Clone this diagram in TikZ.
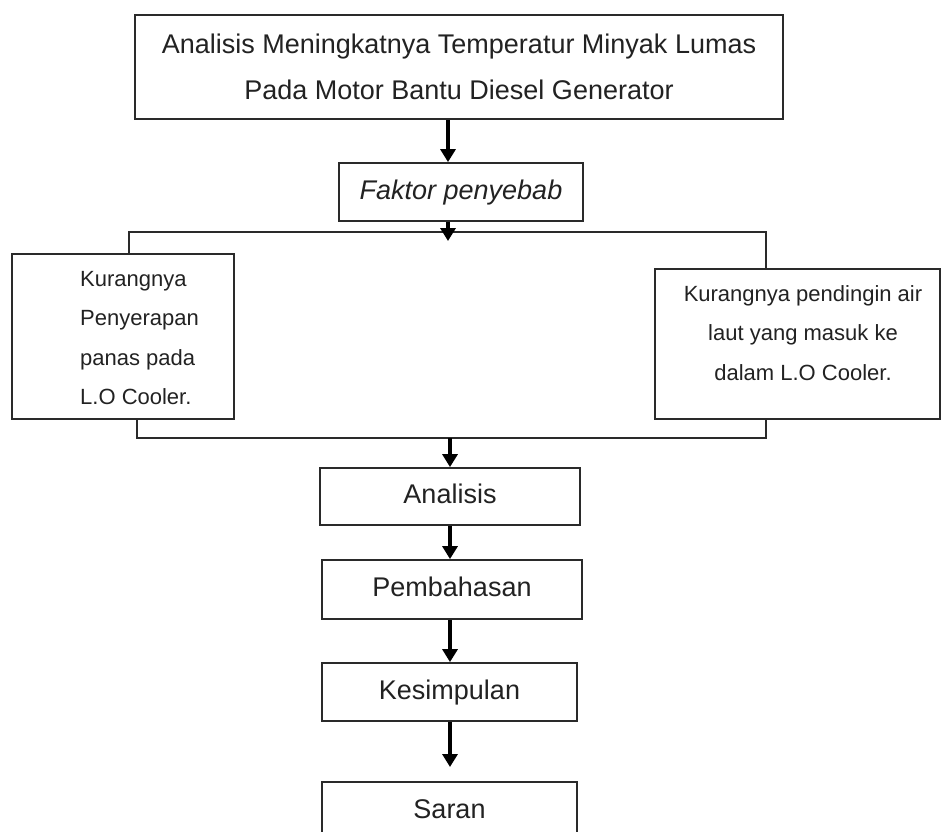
\documentclass[tikz,border=0pt]{standalone}
\usepackage{fontspec}
\setmainfont{Liberation Sans}
\usetikzlibrary{arrows.meta}
\definecolor{ink}{HTML}{222222}
\definecolor{edge}{HTML}{2A2A2A}
\begin{document}
\begin{tikzpicture}[x=1pt,y=-1pt,
  box/.style={draw=edge, line width=1.8pt, inner sep=0pt, text=ink},
  arr/.style={line width=3.5pt, draw=black, -{Triangle[width=15pt,length=13pt]}},
  conn/.style={line width=2pt, draw=edge},
  big/.style={font=\fontsize{27}{46}\selectfont},
  one/.style={text height=19.5pt, text depth=5pt},
  small/.style={font=\fontsize{22}{39.5}\selectfont, text=ink, inner sep=0pt}]
\useasboundingbox (0,0) rectangle (942,832);
\fill[white] (0,0) rectangle (942,832);
\clip (0,0) rectangle (942,832);

% boxes
\node[box, big, align=center, minimum width=648pt, minimum height=104pt] (top) at (459,67)
  {Analisis Meningkatnya Temperatur Minyak Lumas\\Pada Motor Bantu Diesel Generator};
\node[box, one, font=\fontsize{27}{32}\selectfont\itshape, minimum width=244pt, minimum height=58pt] (fak) at (461,192) {Faktor penyebab};
\node[box, minimum width=222pt, minimum height=165pt] (lb) at (123,336.5) {};
\node[small, align=left, anchor=west] (lbt) at (80,338) {Kurangnya\\Penyerapan\\panas pada\\L.O Cooler.};
\node[box, minimum width=285pt, minimum height=150pt] (rb) at (797.5,344) {};
\node[small, align=center] (rbt) at (803,333) {Kurangnya pendingin air\\laut yang masuk ke\\dalam L.O Cooler.};
\node[box, big, one, minimum width=260pt, minimum height=57pt] (ana) at (450,496.5) {Analisis};
\node[box, big, one, minimum width=260pt, minimum height=59pt] (pem) at (452,589.5) {Pembahasan};
\node[box, big, one, minimum width=255pt, minimum height=58pt] (kes) at (449.5,692) {Kesimpulan};
\node[box, big, one, minimum width=255pt, minimum height=58pt] (sar) at (449.5,811) {Saran};

% helper coordinates
\coordinate (ax) at (448,0);
\coordinate (bx) at (450,0);
\coordinate (lx) at (129,0);
\coordinate (lx2) at (137,0);
\coordinate (rx) at (766,0);
\coordinate (sy) at (0,232);
\coordinate (jy) at (0,438);
\coordinate (stip) at (448,241);
\coordinate (ktip) at (450,767);

% connectors
\draw[arr] (top.south -| ax) -- (fak.north -| ax);
\draw[conn] (lb.north -| lx) -- (lx |- sy) -- (rx |- sy) -- (rb.north -| rx);
\draw[arr] (fak.south -| ax) -- (stip);
\draw[conn] (lb.south -| lx2) -- (lx2 |- jy) -- (rx |- jy) -- (rb.south -| rx);
\draw[arr] (bx |- jy) -- (ana.north -| bx);
\draw[arr] (ana.south -| bx) -- (pem.north -| bx);
\draw[arr] (pem.south -| bx) -- (kes.north -| bx);
\draw[arr] (kes.south -| bx) -- (ktip);
\end{tikzpicture}
\end{document}
